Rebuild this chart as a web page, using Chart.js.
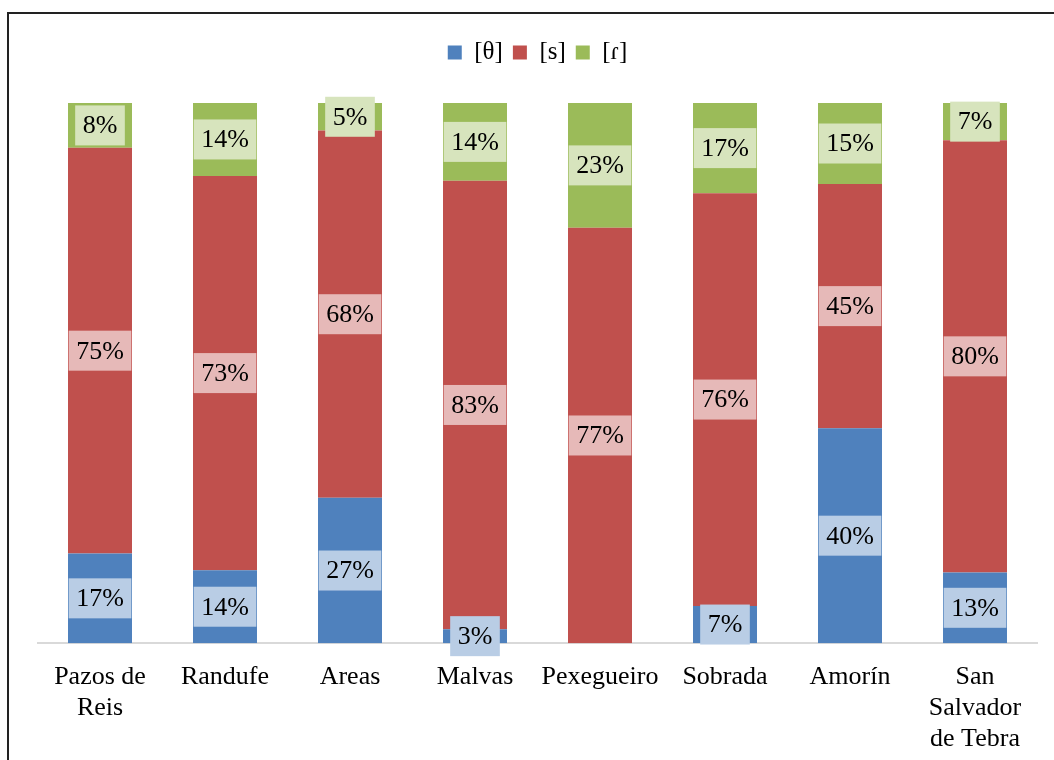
<!DOCTYPE html>
<html>
<head>
    <meta charset="utf-8">
    <title>[θ] [s] [ɾ]</title>
    <script src="https://cdn.jsdelivr.net/npm/chart.js"></script>
    <style>
        body { margin: 0; background: #fff; }
        #wrap { width: 1054px; height: 760px; position: relative; }
    </style>
</head>
<body>
    <div id="wrap">
        <canvas id="chart" width="1054" height="760"></canvas>
    </div>

    <script>
        // categorias (aldeas)
        var places = [['Pazos de', 'Reis'], 'Randufe', 'Areas', 'Malvas', 'Pexegueiro', 'Sobrada', 'Amorín', ['San', 'Salvador', 'de Tebra']];

        // porcentaxes
        var theta = [16.6, 13.5, 26.9, 2.6, 0, 6.9, 39.8, 13.1];
        var sibil = [75.1, 73.0, 68.0, 83.0, 76.9, 76.4, 45.2, 80.0];
        var tap = [8.3, 13.5, 5.1, 14.4, 23.1, 16.7, 15.0, 6.9];

        var serif = "'Liberation Serif', 'Times New Roman', 'DejaVu Serif', serif";

        // etiquetas con caixa de fondo
        var labelBoxes = {
            id: 'labelBoxes',
            afterDatasetsDraw: function (chart) {
                var ctx = chart.ctx;
                ctx.save();
                ctx.font = '26px ' + serif;
                ctx.textAlign = 'center';
                ctx.textBaseline = 'middle';
                chart.data.datasets.forEach(function (ds, i) {
                    var meta = chart.getDatasetMeta(i);
                    meta.data.forEach(function (bar, j) {
                        var v = ds.data[j];
                        if (!v) return;
                        var txt = Math.round(v) + '%';
                        var w = ctx.measureText(txt).width + 15;
                        var h = 40;
                        var cy = (bar.y + bar.base) / 2;
                        ctx.fillStyle = ds.labelBg;
                        ctx.fillRect(bar.x - w / 2, cy - h / 2, w, h);
                        ctx.fillStyle = '#000';
                        ctx.fillText(txt, bar.x, cy + 1);
                    });
                });
                ctx.restore();
            }
        };

        // marco exterior (arriba e esquerda)
        var frame = {
            id: 'frame',
            afterDraw: function (chart) {
                var ctx = chart.ctx;
                ctx.save();
                ctx.strokeStyle = '#222';
                ctx.lineWidth = 2;
                ctx.beginPath();
                ctx.moveTo(1054, 13);
                ctx.lineTo(8, 13);
                ctx.lineTo(8, 760);
                ctx.stroke();
                ctx.restore();
            }
        };

        // espazo baixo a lenda
        var legendGap = {
            id: 'legendGap',
            beforeInit: function (chart) {
                var fit = chart.legend.fit;
                chart.legend.fit = function () {
                    fit.bind(chart.legend)();
                    this.height += 28;
                };
            }
        };

        new Chart(document.getElementById('chart'), {
            type: 'bar',
            data: {
                labels: places,
                datasets: [
                    { label: '[θ]', data: theta, backgroundColor: '#4f81bd', labelBg: '#b9cde5' },
                    { label: '[s]', data: sibil, backgroundColor: '#c0504d', labelBg: '#e6b9b8' },
                    { label: '[ɾ]', data: tap, backgroundColor: '#9bbb59', labelBg: '#d7e4bd' }
                ]
            },
            options: {
                responsive: false,
                animation: false,
                categoryPercentage: 1,
                barPercentage: 0.512,
                layout: { padding: { top: 30, left: 37.5, right: 16.5, bottom: -6 } },
                scales: {
                    x: {
                        stacked: true,
                        grid: { display: false },
                        border: { display: true, color: '#d9d9d9', width: 2 },
                        ticks: {
                            color: '#000',
                            padding: 11,
                            maxRotation: 0,
                            autoSkip: false,
                            font: { family: serif, size: 26, lineHeight: 1.19 }
                        }
                    },
                    y: {
                        stacked: true,
                        display: false,
                        min: 0,
                        max: 100
                    }
                },
                plugins: {
                    tooltip: { enabled: false },
                    legend: {
                        position: 'top',
                        labels: {
                            color: '#000',
                            boxWidth: 14,
                            boxHeight: 14,
                            padding: 10,
                            font: { family: serif, size: 25 }
                        }
                    }
                }
            },
            plugins: [labelBoxes, frame, legendGap]
        });
    </script>
</body>
</html>
